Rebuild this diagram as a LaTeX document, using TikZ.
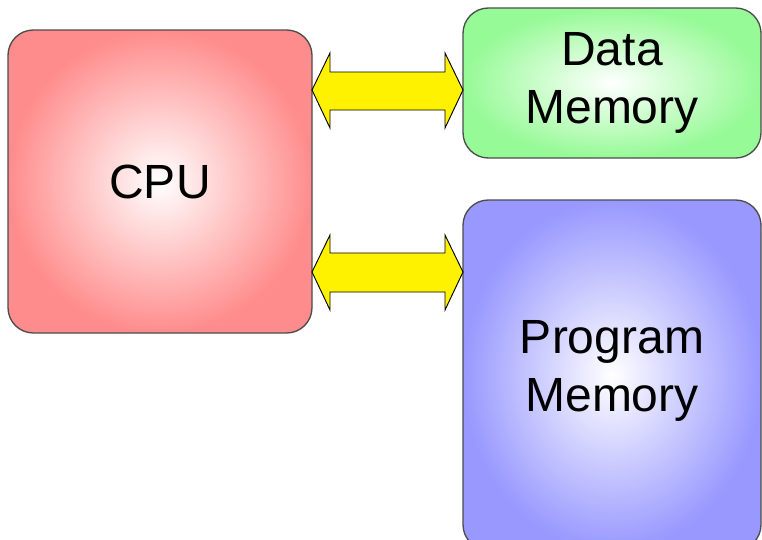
\documentclass[tikz,border=0pt]{standalone}
\usepackage{fontspec}
\setmainfont{Liberation Sans}
\begin{document}
\begin{tikzpicture}[x=0.75pt,y=-0.75pt,
  box/.style={draw=black!70,line width=1pt,rounded corners=19pt,inner sep=0pt,outer sep=0pt,
    align=center,font=\fontsize{36}{43}\selectfont},
  bus/.style={draw=black,line width=0.7pt,fill=yellow,line join=miter}]
\useasboundingbox (0,0) rectangle (762,539);
\definecolor{cpuc}{RGB}{255,140,140}
\definecolor{dmc}{RGB}{150,250,150}
\definecolor{pmc}{RGB}{152,152,255}
\node[box,minimum width=228pt,minimum height=227.25pt,inner color=white,outer color=cpuc] (cpu) at (160,181.5) {CPU};
\node[box,minimum width=223.5pt,minimum height=112.5pt,inner color=white,outer color=dmc] (dm) at (612,83) {Data\\Memory};
\node[box,minimum width=223.5pt,minimum height=262.5pt,inner color=white,outer color=pmc] (pm) at (612,375) {};
\node[font=\fontsize{36}{43}\selectfont,align=center] (pmt) at (612,371) {Program\\Memory};
\coordinate (a1l) at (cpu.east |- 0,90);
\coordinate (a2l) at (cpu.east |- 0,272);
\draw[bus] (a1l) -- ++(18,-37) -- ++(0,19) -- ++(115,0) -- ++(0,-19) -- (dm.west |- a1l) -- ++(-18,38) -- ++(0,-18) -- ++(-115,0) -- ++(0,18) -- cycle;
\draw[bus] (a2l) -- ++(18,-37) -- ++(0,18) -- ++(115,0) -- ++(0,-18) -- (pm.west |- a2l) -- ++(-18,38) -- ++(0,-18) -- ++(-115,0) -- ++(0,18) -- cycle;
\end{tikzpicture}
\end{document}
